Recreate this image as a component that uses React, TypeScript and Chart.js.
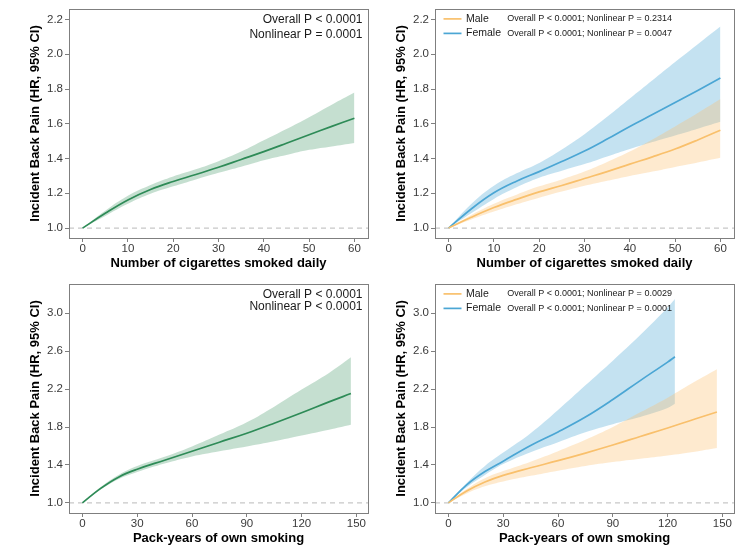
import React, { useEffect, useRef } from "react";
import { Chart, registerables } from "chart.js";
Chart.register(...registerables);

const FONT = "'Liberation Sans', Arial, Helvetica, sans-serif";

// ---------- Data: cigarettes smoked daily ----------
const cigX = [0, 5, 10, 15, 20, 25, 30, 35, 40, 45, 50, 55, 60];
const cigAllHR = [1.0, 1.085, 1.162, 1.222, 1.268, 1.308, 1.35, 1.395, 1.44, 1.488, 1.537, 1.585, 1.632];
const cigAllLo = [1.0, 1.07, 1.14, 1.197, 1.24, 1.28, 1.318, 1.353, 1.39, 1.42, 1.45, 1.47, 1.49];
const cigAllHi = [1.0, 1.1, 1.186, 1.248, 1.297, 1.338, 1.385, 1.44, 1.505, 1.57, 1.638, 1.71, 1.78];

const cigMaleHR = [1.0, 1.062, 1.118, 1.165, 1.208, 1.245, 1.285, 1.325, 1.368, 1.41, 1.455, 1.507, 1.563];
const cigMaleLo = [1.0, 1.05, 1.095, 1.137, 1.175, 1.21, 1.243, 1.272, 1.3, 1.325, 1.352, 1.378, 1.405];
const cigMaleHi = [1.0, 1.075, 1.14, 1.192, 1.24, 1.28, 1.325, 1.38, 1.44, 1.51, 1.585, 1.662, 1.742];

const cigFemaleHR = [1.0, 1.11, 1.203, 1.27, 1.325, 1.383, 1.443, 1.512, 1.585, 1.653, 1.722, 1.792, 1.864];
const cigFemaleLo = [1.0, 1.085, 1.168, 1.235, 1.29, 1.33, 1.368, 1.412, 1.455, 1.495, 1.533, 1.572, 1.612];
const cigFemaleHi = [1.0, 1.138, 1.243, 1.315, 1.375, 1.452, 1.54, 1.64, 1.745, 1.85, 1.955, 2.058, 2.16];

// ---------- Data: pack-years ----------
const packX = [0, 10, 20, 30, 45, 60, 75, 90, 105, 120, 135, 147];
const packAllHR = [1.0, 1.153, 1.274, 1.355, 1.45, 1.545, 1.64, 1.735, 1.84, 1.95, 2.065, 2.153];
const packAllLo = [1.0, 1.14, 1.252, 1.325, 1.415, 1.49, 1.545, 1.595, 1.65, 1.71, 1.77, 1.823];
const packAllHi = [1.0, 1.166, 1.296, 1.388, 1.486, 1.595, 1.72, 1.85, 2.015, 2.195, 2.37, 2.535];

const packMaleX = [0, 10, 20, 30, 45, 60, 75, 90, 105, 120, 135, 147];
const packMaleHR = [1.0, 1.125, 1.22, 1.29, 1.37, 1.445, 1.525, 1.61, 1.7, 1.79, 1.885, 1.958];
const packMaleLo = [1.0, 1.1, 1.175, 1.225, 1.285, 1.34, 1.39, 1.43, 1.465, 1.5, 1.54, 1.578];
const packMaleHi = [1.0, 1.145, 1.26, 1.335, 1.435, 1.545, 1.665, 1.8, 1.955, 2.11, 2.28, 2.41];

const packFemaleX = [0, 10, 20, 30, 45, 60, 75, 90, 105, 120, 124];
const packFemaleHR = [1.0, 1.19, 1.33, 1.44, 1.605, 1.748, 1.905, 2.09, 2.29, 2.485, 2.542];
const packFemaleLo = [1.0, 1.165, 1.295, 1.41, 1.535, 1.64, 1.745, 1.83, 1.905, 2.0, 2.045];
const packFemaleHi = [1.0, 1.21, 1.39, 1.53, 1.735, 1.98, 2.24, 2.5, 2.77, 3.06, 3.15];

// ---------- Axes ----------
const cigXTicks = [0, 10, 20, 30, 40, 50, 60];
const cigYTicks = [1.0, 1.2, 1.4, 1.6, 1.8, 2.0, 2.2];
const packXTicks = [0, 30, 60, 90, 120, 150];
const packYTicks = [1.0, 1.4, 1.8, 2.2, 2.6, 3.0];

const cigXTitle = "Number of cigarettes smoked daily";
const packXTitle = "Pack-years of own smoking";
const yTitle = "Incident Back Pain (HR, 95% CI)";

const GREEN = "#2E8B57";
const GREEN_BAND = "rgba(46,139,87,0.28)";
const BLUE = "#4BA6D4";
const BLUE_BAND = "rgba(75,166,212,0.33)";
const ORANGE = "#F9C06C";
const ORANGE_BAND = "rgba(253,190,110,0.33)";

type Series = { x: number[]; hr: number[]; lo: number[]; hi: number[]; line: string; band: string };
type LegendItem = { label: string; color: string; p: string };

type PanelProps = {
  left: number;
  top: number;
  series: Series[];
  xTicks: number[];
  yTicks: number[];
  xMin: number;
  xMax: number;
  yMin: number;
  yMax: number;
  xTitle: string;
  annot?: string[];
  annotGap?: number;
  legend?: LegendItem[];
};

function Panel(props: PanelProps) {
  const ref = useRef<HTMLCanvasElement | null>(null);
  useEffect(() => {
    const canvas = ref.current;
    if (!canvas) return;
    const pts = (xs: number[], ys: number[]) => xs.map((x, i) => ({ x, y: ys[i] }));
    const lines: any[] = [];
    const bands: any[] = [];
    const n = props.series.length;
    props.series.forEach((s) => {
      lines.push({
        data: pts(s.x, s.hr),
        borderColor: s.line,
        borderWidth: 1.7,
        pointRadius: 0,
        fill: false,
        tension: 0.4,
      });
    });
    props.series.forEach((s, k) => {
      const loIndex = n + k * 2;
      bands.push({
        data: pts(s.x, s.lo),
        borderWidth: 0,
        borderColor: "rgba(0,0,0,0)",
        pointRadius: 0,
        fill: false,
        tension: 0.4,
      });
      bands.push({
        data: pts(s.x, s.hi),
        borderWidth: 0,
        borderColor: "rgba(0,0,0,0)",
        backgroundColor: s.band,
        pointRadius: 0,
        fill: loIndex,
        tension: 0.4,
      });
    });

    const decor = {
      id: "decor",
      beforeDatasetsDraw(chart: any) {
        const { ctx, chartArea } = chart;
        const y = chart.scales.y.getPixelForValue(1.0);
        ctx.save();
        ctx.strokeStyle = "#c8c8c8";
        ctx.lineWidth = 1.2;
        ctx.setLineDash([5, 4]);
        ctx.beginPath();
        ctx.moveTo(chartArea.left, y);
        ctx.lineTo(chartArea.right, y);
        ctx.stroke();
        ctx.restore();
      },
      afterDraw(chart: any) {
        const { ctx, chartArea } = chart;
        ctx.save();
        ctx.strokeStyle = "#7f7f7f";
        ctx.lineWidth = 1;
        ctx.setLineDash([]);
        ctx.strokeRect(
          Math.round(chartArea.left) + 0.5,
          Math.round(chartArea.top) + 0.5,
          Math.round(chartArea.right - chartArea.left),
          Math.round(chartArea.bottom - chartArea.top)
        );
        if (props.annot) {
          ctx.fillStyle = "#1a1a1a";
          ctx.font = `12px ${FONT}`;
          ctx.textAlign = "right";
          ctx.textBaseline = "middle";
          props.annot.forEach((t, i) => {
            ctx.fillText(t, chartArea.right - 5.5, chartArea.top + 10.7 + i * (props.annotGap || 14));
          });
        }
        if (props.legend) {
          props.legend.forEach((it, i) => {
            const yy = chartArea.top + 10 + i * 14.5;
            ctx.strokeStyle = it.color;
            ctx.lineWidth = 1.7;
            ctx.beginPath();
            ctx.moveTo(chartArea.left + 8.5, yy);
            ctx.lineTo(chartArea.left + 26.5, yy);
            ctx.stroke();
            ctx.fillStyle = "#1a1a1a";
            ctx.textAlign = "left";
            ctx.textBaseline = "middle";
            ctx.font = `10.5px ${FONT}`;
            ctx.fillText(it.label, chartArea.left + 31, yy);
            ctx.font = `9px ${FONT}`;
            ctx.fillText(it.p, chartArea.left + 72.3, yy);
          });
        }
        ctx.restore();
      },
    };

    const chart = new Chart(canvas, {
      type: "line",
      data: { datasets: [...lines, ...bands] },
      options: {
        animation: false,
        responsive: false,
        maintainAspectRatio: false,
        layout: { padding: { left: 0, right: 7, top: 6, bottom: 0 } },
        plugins: {
          legend: { display: false },
          tooltip: { enabled: false },
          filler: { propagate: false },
        },
        scales: {
          x: {
            type: "linear",
            min: props.xMin,
            max: props.xMax,
            afterBuildTicks: (s: any) => {
              s.ticks = props.xTicks.map((v) => ({ value: v }));
            },
            afterFit: (s: any) => {
              s.height = 37;
            },
            grid: { display: true, drawOnChartArea: false, drawTicks: true, tickLength: 4, color: "#7f7f7f" },
            border: { display: false },
            ticks: {
              font: { family: FONT, size: 11.5 },
              color: "#3a3a3a",
              padding: 0,
              maxRotation: 0,
              autoSkip: false,
              callback: (v: any) => String(v),
            },
            title: {
              display: true,
              text: props.xTitle,
              font: { family: FONT, size: 13, weight: "bold" },
              color: "#000",
              padding: { top: 0, bottom: 4 },
            },
          },
          y: {
            type: "linear",
            min: props.yMin,
            max: props.yMax,
            afterBuildTicks: (s: any) => {
              s.ticks = props.yTicks.map((v) => ({ value: v }));
            },
            afterFit: (s: any) => {
              s.width = 69;
            },
            grid: { display: true, drawOnChartArea: false, drawTicks: true, tickLength: 4, color: "#7f7f7f" },
            border: { display: false },
            ticks: {
              font: { family: FONT, size: 11.5 },
              color: "#3a3a3a",
              padding: 2,
              autoSkip: false,
              callback: (v: any) => Number(v).toFixed(1),
            },
            title: {
              display: true,
              text: yTitle,
              font: { family: FONT, size: 13, weight: "bold" },
              color: "#000",
              padding: { top: 28, bottom: 0 },
            },
          },
        },
      } as any,
      plugins: [decor],
    });
    return () => chart.destroy();
  }, []);
  return (
    <canvas
      ref={ref}
      width={375}
      height={275}
      style={{ position: "absolute", left: props.left, top: props.top, width: 375, height: 275, display: "block" }}
    />
  );
}

export default function App() {
  const cigAll: Series[] = [{ x: cigX, hr: cigAllHR, lo: cigAllLo, hi: cigAllHi, line: GREEN, band: GREEN_BAND }];
  const cigSex: Series[] = [
    { x: cigX, hr: cigMaleHR, lo: cigMaleLo, hi: cigMaleHi, line: ORANGE, band: ORANGE_BAND },
    { x: cigX, hr: cigFemaleHR, lo: cigFemaleLo, hi: cigFemaleHi, line: BLUE, band: BLUE_BAND },
  ];
  const packAll: Series[] = [{ x: packX, hr: packAllHR, lo: packAllLo, hi: packAllHi, line: GREEN, band: GREEN_BAND }];
  const packSex: Series[] = [
    { x: packMaleX, hr: packMaleHR, lo: packMaleLo, hi: packMaleHi, line: ORANGE, band: ORANGE_BAND },
    { x: packFemaleX, hr: packFemaleHR, lo: packFemaleLo, hi: packFemaleHi, line: BLUE, band: BLUE_BAND },
  ];
  return (
    <div style={{ position: "absolute", left: 0, top: 0, width: 750, height: 550, background: "#fff" }}>
      <Panel
        left={0}
        top={0}
        series={cigAll}
        xTicks={cigXTicks}
        yTicks={cigYTicks}
        xMin={-3}
        xMax={63}
        yMin={0.943}
        yMax={2.261}
        xTitle={cigXTitle}
        annot={["Overall P < 0.0001", "Nonlinear P = 0.0001"]}
        annotGap={14.6}
      />
      <Panel
        left={366}
        top={0}
        series={cigSex}
        xTicks={cigXTicks}
        yTicks={cigYTicks}
        xMin={-3}
        xMax={63}
        yMin={0.943}
        yMax={2.261}
        xTitle={cigXTitle}
        legend={[
          { label: "Male", color: ORANGE, p: "Overall P < 0.0001; Nonlinear P = 0.2314" },
          { label: "Female", color: BLUE, p: "Overall P < 0.0001; Nonlinear P = 0.0047" },
        ]}
      />
      <Panel
        left={0}
        top={275}
        series={packAll}
        xTicks={packXTicks}
        yTicks={packYTicks}
        xMin={-7.35}
        xMax={156.35}
        yMin={0.893}
        yMax={3.31}
        xTitle={packXTitle}
        annot={["Overall P < 0.0001", "Nonlinear P < 0.0001"]}
        annotGap={12.5}
      />
      <Panel
        left={366}
        top={275}
        series={packSex}
        xTicks={packXTicks}
        yTicks={packYTicks}
        xMin={-7.35}
        xMax={156.35}
        yMin={0.893}
        yMax={3.31}
        xTitle={packXTitle}
        legend={[
          { label: "Male", color: ORANGE, p: "Overall P < 0.0001; Nonlinear P = 0.0029" },
          { label: "Female", color: BLUE, p: "Overall P < 0.0001; Nonlinear P = 0.0001" },
        ]}
      />
    </div>
  );
}
